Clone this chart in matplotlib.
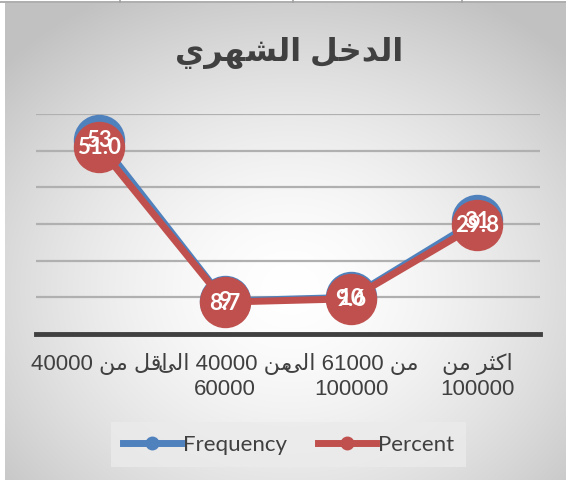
import matplotlib
matplotlib.use("Agg")
import matplotlib.pyplot as plt
from matplotlib.lines import Line2D
import numpy as np

# data
title = "الدخل الشهري"
categories = ["اقل من 40000", "من 40000 الى\n60000", "من 61000 الى\n100000", "اكثر من\n100000"]
series_names = ["Frequency", "Percent"]
frequency = [53, 9, 10, 31]
percent = [51.0, 8.7, 9.6, 29.8]

# minimal Arabic shaping (presentation forms) + right-to-left ordering
FORMS = {
    'ا': ('\ufe8d', '\ufe8e', None, None),
    'د': ('\ufea9', '\ufeaa', None, None),
    'ر': ('\ufead', '\ufeae', None, None),
    'ل': ('\ufedd', '\ufede', '\ufedf', '\ufee0'),
    'خ': ('\ufea5', '\ufea6', '\ufea7', '\ufea8'),
    'ش': ('\ufeb5', '\ufeb6', '\ufeb7', '\ufeb8'),
    'ه': ('\ufee9', '\ufeea', '\ufeeb', '\ufeec'),
    'ي': ('\ufef1', '\ufef2', '\ufef3', '\ufef4'),
    'ق': ('\ufed5', '\ufed6', '\ufed7', '\ufed8'),
    'م': ('\ufee1', '\ufee2', '\ufee3', '\ufee4'),
    'ن': ('\ufee5', '\ufee6', '\ufee7', '\ufee8'),
    'ك': ('\ufed9', '\ufeda', '\ufedb', '\ufedc'),
    'ث': ('\ufe99', '\ufe9a', '\ufe9b', '\ufe9c'),
    'ى': ('\ufeef', '\ufef0', '\ufbe8', '\ufbe9'),
}


def shape_word(w):
    out = []
    for i, ch in enumerate(w):
        if ch not in FORMS:
            out.append(ch)
            continue
        prev = w[i - 1] if i > 0 else ''
        nxt = w[i + 1] if i + 1 < len(w) else ''
        jp = prev in FORMS and FORMS[prev][2] is not None
        jn = FORMS[ch][2] is not None and nxt in FORMS
        iso, fin, ini, med = FORMS[ch]
        out.append(med if (jp and jn) else fin if jp else ini if jn else iso)
    return ''.join(reversed(out))


def visual(text):
    lines = []
    for line in text.split('\n'):
        toks = [shape_word(t) if any(c in FORMS for c in t) else t for t in line.split(' ')]
        lines.append(' '.join(reversed(toks)))
    return '\n'.join(lines)


W, H = 566, 481
FAM = ['Liberation Sans', 'DejaVu Sans']
BLUE = '#4F81BD'
RED = '#C0504D'
TXT = '#404040'

fig = plt.figure(figsize=(W / 100, H / 100), dpi=100)
fig.patch.set_facecolor('white')

# radial gray gradient behind the chart
bg = fig.add_axes([5 / W, 0, (W - 5) / W, (H - 4) / H], zorder=0)
yy, xx = np.mgrid[4:H, 5:W]
r = np.sqrt(((xx - 290) / 390) ** 2 + ((yy - 290) / 330) ** 2)
val = 1.0 - 0.24 * np.clip(r, 0, 1) ** 1.6
bg.imshow(np.dstack([val] * 3), aspect='auto', extent=[0, 1, 0, 1])
bg.axis('off')

# table borders peeking above the chart
fig.add_artist(Line2D([0, 1], [(H - 3) / H] * 2, color='#A0A0A0', lw=1.2))
for px in [120, 293, 462]:
    fig.add_artist(Line2D([px / W] * 2, [(H - 3) / H, 1], color='#A0A0A0', lw=1.2))

ax = fig.add_axes([36 / W, (H - 335) / H, 504 / W, 220 / H], zorder=1)
ax.patch.set_alpha(0)
x = np.arange(len(categories))

for y in range(10, 70, 10):
    ax.axhline(y, color='#B0B0B0', lw=1.6, zorder=1)
ax.axhline(0, color='#404040', lw=3.5, zorder=2, clip_on=False)

ax.plot(x, frequency, color=BLUE, lw=5, marker='o', ms=36, zorder=3)
ax.plot(x, percent, color=RED, lw=5, marker='o', ms=36, zorder=4)

for i in x:
    ax.text(i, frequency[i], f"{frequency[i]}", ha='center', va='center', color='white',
            fontsize=16, family='Lato', fontweight='bold', zorder=5)
    ax.text(i, percent[i], f"{percent[i]:.1f}", ha='center', va='center', color='white',
            fontsize=16, family='Lato', fontweight='bold', zorder=5)

ax.set_xlim(-0.5, 3.5)
ax.set_ylim(0, 60)
ax.set_yticks([])
ax.set_xticks(x)
ax.set_xticklabels([visual(c) for c in categories], fontsize=16, color=TXT,
                   family=FAM, linespacing=1.25)
ax.tick_params(axis='x', length=0, pad=13)
for s in ax.spines.values():
    s.set_visible(False)

fig.text(289 / W, (H - 53) / H, visual(title), ha='center', va='center', fontsize=23,
         fontweight='bold', color=TXT, family=FAM)

handles = [Line2D([], [], color=BLUE, lw=5, marker='o', ms=9),
           Line2D([], [], color=RED, lw=5, marker='o', ms=9)]
leg = fig.legend(handles, series_names, loc='center', bbox_to_anchor=(288.5 / W, (H - 445.5) / H),
                 ncol=2, frameon=True, fancybox=False, facecolor='#EBEBEB', edgecolor='none',
                 framealpha=0.8, handlelength=2.6, handletextpad=0.1, columnspacing=1.4,
                 borderpad=0.55, borderaxespad=0, prop={'family': 'Lato', 'size': 16},
                 labelcolor=TXT)

fig.savefig('out.png', dpi=100)
